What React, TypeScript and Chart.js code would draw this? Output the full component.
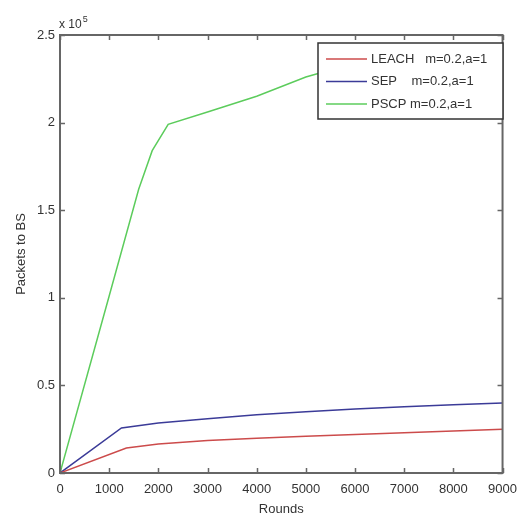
import React, { useEffect, useRef } from "react";
import { Chart, registerables } from "chart.js";

Chart.register(...registerables);

const leachRounds = [0, 1350, 2000, 3000, 4000, 5000, 6000, 7000, 8000, 9000];
const leachPackets = [0, 14300, 16500, 18500, 19800, 21000, 22000, 23000, 24000, 25000];

const sepRounds = [0, 1250, 2000, 3000, 4000, 5000, 6000, 7000, 8000, 9000];
const sepPackets = [0, 25700, 28500, 31000, 33200, 35000, 36500, 37800, 39000, 40000];

const pscpRounds = [0, 1000, 1600, 1875, 2200, 3000, 4000, 5000, 6000];
const pscpPackets = [0, 101000, 162000, 184000, 199000, 206000, 215000, 226000, 234000];

const seriesLabels = ["LEACH   m=0.2,a=1", "SEP    m=0.2,a=1", "PSCP m=0.2,a=1"];
const seriesColors = ["#cc4b4b", "#3b3b98", "#5ccc5c"];

const xTitle = "Rounds";
const yTitle = "Packets to BS";
const multiplierBase = "x 10";
const multiplierExp = "5";

const FONT = "'Liberation Sans', Arial, sans-serif";

const toPoints = (xs: number[], ys: number[]) => xs.map((x, i) => ({ x, y: ys[i] }));

const matlabPlugin = {
  id: "matlabDecor",
  afterDatasetsDraw(chart: any) {
    const { ctx, chartArea, scales } = chart;
    const { left, top, right, bottom } = chartArea;
    ctx.save();
    ctx.strokeStyle = "#666";
    ctx.lineWidth = 1.5;
    const tl = 5;
    ctx.beginPath();
    scales.x.ticks.forEach((t: any) => {
      const px = Math.round(scales.x.getPixelForValue(t.value)) + 0.5;
      ctx.moveTo(px, bottom);
      ctx.lineTo(px, bottom - tl);
      ctx.moveTo(px, top);
      ctx.lineTo(px, top + tl);
    });
    scales.y.ticks.forEach((t: any) => {
      const py = Math.round(scales.y.getPixelForValue(t.value)) + 0.5;
      ctx.moveTo(left, py);
      ctx.lineTo(left + tl, py);
      ctx.moveTo(right, py);
      ctx.lineTo(right - tl, py);
    });
    ctx.stroke();
    ctx.lineWidth = 2;
    ctx.strokeRect(left, top, right - left, bottom - top);

    // multiplier
    ctx.fillStyle = "#333";
    ctx.font = `12px ${FONT}`;
    ctx.textAlign = "left";
    ctx.textBaseline = "alphabetic";
    ctx.fillText(multiplierBase, left - 1, top - 7);
    const w = ctx.measureText(multiplierBase).width;
    ctx.font = `9px ${FONT}`;
    ctx.fillText(multiplierExp, left - 1 + w + 1, top - 13);

    // legend
    const lx = 318, ly = 43, lw = 185, lh = 76;
    ctx.fillStyle = "#fff";
    ctx.fillRect(lx, ly, lw, lh);
    ctx.strokeStyle = "#333";
    ctx.lineWidth = 1.5;
    ctx.strokeRect(lx, ly, lw, lh);
    ctx.font = `13px ${FONT}`;
    ctx.textBaseline = "middle";
    chart.data.datasets.forEach((ds: any, i: number) => {
      const yy = ly + 16 + i * 22.5;
      ctx.strokeStyle = ds.borderColor;
      ctx.lineWidth = 1.5;
      ctx.beginPath();
      ctx.moveTo(lx + 8, yy);
      ctx.lineTo(lx + 49, yy);
      ctx.stroke();
      ctx.fillStyle = "#333";
      ctx.fillText(ds.label, lx + 53, yy);
    });
    ctx.restore();
  },
};

export default function App() {
  const ref = useRef<HTMLCanvasElement | null>(null);
  useEffect(() => {
    if (!ref.current) return;
    const chart = new Chart(ref.current, {
      type: "line",
      data: {
        datasets: [
          { label: seriesLabels[0], data: toPoints(leachRounds, leachPackets), borderColor: seriesColors[0] },
          { label: seriesLabels[1], data: toPoints(sepRounds, sepPackets), borderColor: seriesColors[1] },
          { label: seriesLabels[2], data: toPoints(pscpRounds, pscpPackets), borderColor: seriesColors[2] },
        ].map((d) => ({ ...d, borderWidth: 1.5, pointRadius: 0, tension: 0, fill: false })),
      },
      options: {
        responsive: false,
        animation: false,
        events: [],
        layout: { padding: { left: 0, right: 19, top: 35, bottom: 0 } },
        plugins: { legend: { display: false }, tooltip: { enabled: false } },
        scales: {
          x: {
            type: "linear",
            min: 0,
            max: 9000,
            ticks: {
              stepSize: 1000,
              autoSkip: false,
              maxRotation: 0,
              padding: 9,
              color: "#333",
              font: { family: FONT, size: 13 },
              callback: (v: any) => String(v),
            },
            grid: { display: false, drawTicks: false },
            border: { display: false },
            title: {
              display: true,
              text: xTitle,
              color: "#333",
              font: { family: FONT, size: 13 },
              padding: { top: 0, bottom: 0 },
            },
            afterFit: (s: any) => {
              s.height = 44;
            },
          },
          y: {
            min: 0,
            max: 250000,
            ticks: {
              stepSize: 50000,
              padding: 5,
              color: "#333",
              font: { family: FONT, size: 13 },
              callback: (v: any) => String(Number(v) / 100000),
            },
            grid: { display: false, drawTicks: false },
            border: { display: false },
            title: {
              display: true,
              text: yTitle,
              color: "#333",
              font: { family: FONT, size: 13 },
              padding: { top: 14, bottom: 0 },
            },
            afterFit: (s: any) => {
              s.width = 60;
            },
          },
        },
      },
      plugins: [matlabPlugin],
    });
    return () => chart.destroy();
  }, []);
  return (
    <div style={{ position: "absolute", left: 0, top: 0, width: 526, height: 517, background: "#fff" }}>
      <canvas ref={ref} width={526} height={517} style={{ width: 526, height: 517, display: "block" }} />
    </div>
  );
}
